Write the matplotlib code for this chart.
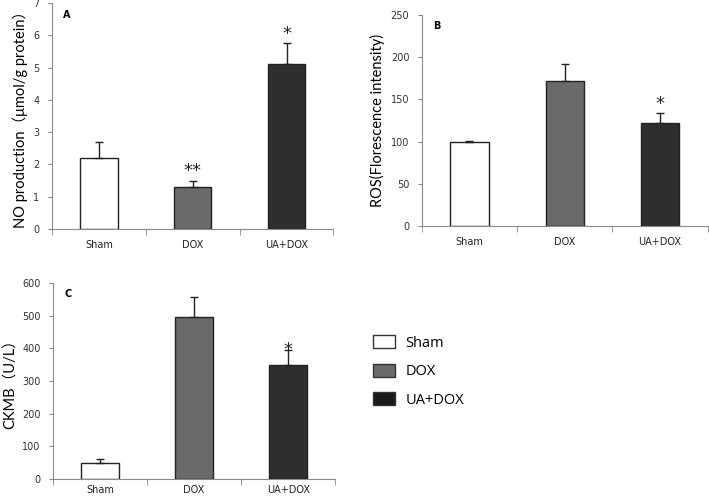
import matplotlib.pyplot as plt
from matplotlib.patches import Patch

groups = ['Sham', 'DOX', 'UA+DOX']
colors = ['white', '#6a6a6a', '#2e2e2e']

no_vals = [2.2, 1.3, 5.1]
no_err = [0.5, 0.2, 0.65]
no_marks = ['', '**', '*']

ros_vals = [100, 172, 122]
ros_err = [1, 20, 12]
ros_marks = ['', '', '*']

ckmb_vals = [50, 497, 350]
ckmb_err = [12, 59, 45]
ckmb_marks = ['', '', '*']

label_font = ['Lato', 'Noto Sans CJK SC']
spine_col = '#8a8a8a'


def panel(ax, vals, errs, marks, ymax, step, ylabel, letter, mark_gap, xpad):
    x = range(len(groups))
    ax.bar(x, vals, width=0.4, color=colors, edgecolor='#222222', linewidth=1.0, zorder=2)
    ax.errorbar(x, vals, yerr=[[0] * len(vals), errs], fmt='none', ecolor='#222222',
                elinewidth=1.0, capsize=3, capthick=1.0, zorder=3)
    for i, m in enumerate(marks):
        if m:
            ax.text(i, vals[i] + errs[i] + mark_gap, m, ha='center', va='center',
                    fontsize=13, color='#222222')
    ax.set_xlim(-0.5, 2.5)
    ax.set_ylim(0, ymax)
    ax.set_yticks([step * k for k in range(int(round(ymax / step)) + 1)])
    ax.set_xticks(list(x))
    ax.set_xticklabels(groups)
    ax.set_xticks([-0.5, 0.5, 1.5, 2.5], minor=True)
    ax.tick_params(axis='x', which='major', length=0, pad=xpad, labelsize=7, labelcolor='#222222')
    ax.tick_params(axis='x', which='minor', length=4, direction='out', color=spine_col)
    ax.tick_params(axis='y', length=3, direction='out', color=spine_col, labelsize=7,
                   labelcolor='#333333', pad=6)
    for s in ['top', 'right']:
        ax.spines[s].set_visible(False)
    for s in ['left', 'bottom']:
        ax.spines[s].set_color(spine_col)
    ax.set_ylabel(ylabel, fontsize=10.5, family=label_font, labelpad=4)
    ax.text(0.04, 0.97, letter, transform=ax.transAxes, fontsize=7, fontweight='bold',
            ha='left', va='top')


fig = plt.figure(figsize=(7.09, 4.99), dpi=100)
axA = fig.add_axes([0.0733, 0.541, 0.397, 0.453])
axB = fig.add_axes([0.595, 0.547, 0.403, 0.423])
axC = fig.add_axes([0.0748, 0.040, 0.398, 0.393])

panel(axA, no_vals, no_err, no_marks, 7, 1, 'NO production（μmol/g protein）', 'A', 0.3, 8)
panel(axB, ros_vals, ros_err, ros_marks, 250, 50, 'ROS(Florescence intensity)', 'B', 10, 8)
panel(axC, ckmb_vals, ckmb_err, ckmb_marks, 600, 100, 'CKMB（U/L）', 'C', 0, 4)

handles = [Patch(facecolor=c, edgecolor='#333333', linewidth=1.0) for c in ['white', '#6a6a6a', '#1a1a1a']]
fig.legend(handles, groups, loc='upper left', bbox_to_anchor=(0.508, 0.355), frameon=False,
           handlelength=1.5, handleheight=1.0, handletextpad=0.7,
           labelspacing=0.9, prop={'family': 'Open Sans', 'size': 10.5})

fig.savefig('out.png', dpi=100)
